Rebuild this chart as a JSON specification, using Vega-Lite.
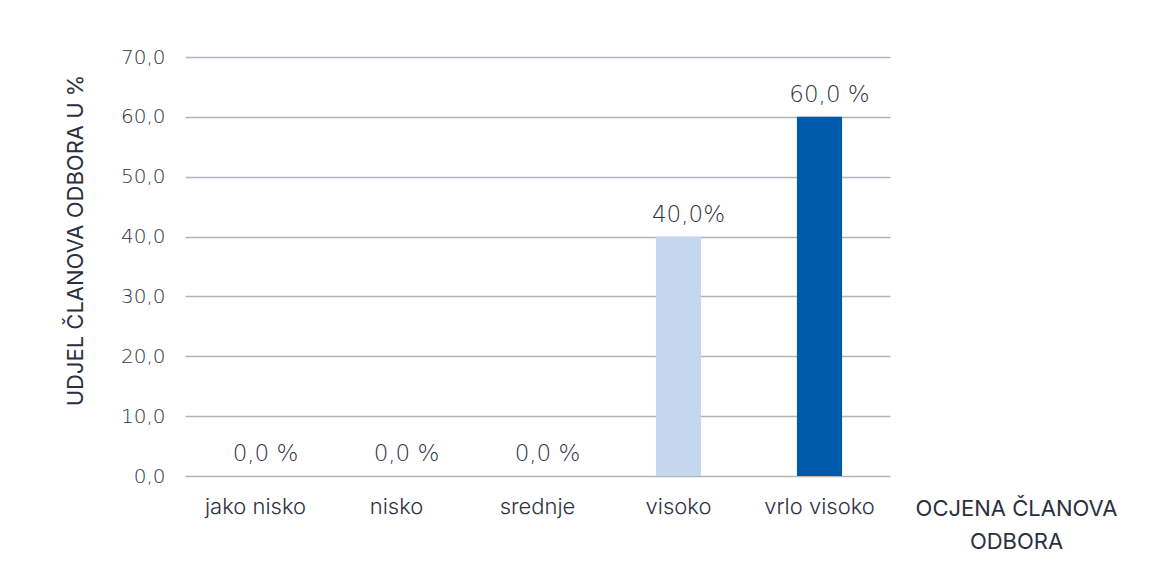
{
  "$schema": "https://vega.github.io/schema/vega-lite/v6.json",
  "width": 705,
  "height": 419,
  "autosize": "none",
  "padding": {"left": 185, "top": 57, "right": 279, "bottom": 94},
  "background": "white",
  "config": {
    "view": {"stroke": null},
    "font": "Inter",
    "axis": {"labelColor": "#2e3242", "titleColor": "#2b2f3e", "labelFont": "Inter", "titleFont": "Inter"}
  },
  "data": {
    "values": [
      {"ocjena": "jako nisko", "udio": 0, "oznaka": "0,0 %", "grupa": "a"},
      {"ocjena": "nisko", "udio": 0, "oznaka": "0,0 %", "grupa": "a"},
      {"ocjena": "srednje", "udio": 0, "oznaka": "0,0 %", "grupa": "a"},
      {"ocjena": "visoko", "udio": 40, "oznaka": "40,0%", "grupa": "b"},
      {"ocjena": "vrlo visoko", "udio": 60, "oznaka": "60,0 %", "grupa": "c"}
    ]
  },
  "encoding": {
    "x": {
      "field": "ocjena",
      "type": "nominal",
      "sort": null,
      "scale": {"paddingInner": 0.68, "paddingOuter": 0.34},
      "axis": {
        "labelAngle": 0,
        "labelFontSize": 22,
        "labelFontWeight": 300,
        "labelPadding": 20,
        "ticks": false,
        "domain": false,
        "title": ["OCJENA ČLANOVA", "ODBORA"],
        "titleFontSize": 22,
        "titleFontWeight": "normal",
        "titleX": 831,
        "titleY": 39,
        "titleAlign": "center",
        "titleBaseline": "alphabetic",
        "titleLineHeight": 33
      }
    },
    "y": {
      "field": "udio",
      "type": "quantitative",
      "scale": {"domain": [0, 70], "nice": false},
      "axis": {
        "values": [0, 10, 20, 30, 40, 50, 60, 70],
        "labelExpr": "replace(format(datum.value, '.1f'), '.', ',')",
        "labelFontSize": 20,
        "labelFont": "DejaVu Sans",
        "labelFontWeight": 300,
        "labelPadding": 20,
        "ticks": false,
        "domain": false,
        "gridColor": "#b4b4bc",
        "gridWidth": 1.3,
        "title": "UDJEL ČLANOVA ODBORA U %",
        "titleFontSize": 22,
        "titleFontWeight": "normal",
        "titleX": -103,
        "titleY": 183,
        "titleAngle": -90,
        "titleAlign": "center",
        "titleBaseline": "alphabetic"
      }
    }
  },
  "layer": [
    {
      "mark": {"type": "bar"},
      "encoding": {
        "color": {
          "field": "grupa",
          "type": "nominal",
          "scale": {"domain": ["a", "b", "c"], "range": ["#c5d7ee", "#c5d7ee", "#005aaa"]},
          "legend": null
        }
      }
    },
    {
      "mark": {"type": "text", "dy": -15, "dx": 10, "baseline": "alphabetic", "fontSize": 23, "font": "DejaVu Sans", "fontWeight": 200, "color": "#2e3242"},
      "encoding": {"text": {"field": "oznaka"}}
    }
  ]
}
